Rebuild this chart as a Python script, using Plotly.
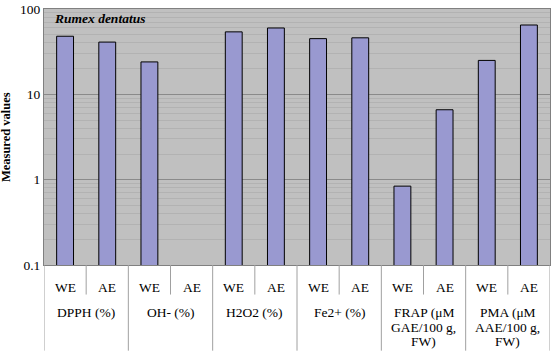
import plotly.graph_objects as go

groups = ["DPPH (%)", "OH- (%)", "H2O2 (%)", "Fe2+ (%)",
          "FRAP (μM<br>GAE/100 g,<br>FW)", "PMA (μM<br>AAE/100 g,<br>FW)"]
extracts = ["WE", "AE"]
values = [48, 41, 24, None, 54, 60, 45, 46, 0.84, 6.6, 25, 65]
y_ticks = [0.1, 1, 10, 100]
y_tick_text = ["0.1", "1", "10", "100"]

cats = [f"{g}|{e}" for g in groups for e in extracts]

SERIF = "Liberation Serif"
W, H = 553, 352
ML, MR, MT, MB = 44, 2, 5, 87
PW, PH = W - ML - MR, H - MT - MB

fig = go.Figure()
fig.add_trace(go.Bar(
    x=cats, y=values,
    marker=dict(color="#9999d0", line=dict(color="#000000", width=1)),
    width=0.4,
))

minor_vals = [m * 10 ** e for e in (-1, 0, 1) for m in range(2, 10)]

fig.update_layout(
    width=W, height=H,
    margin=dict(l=ML, r=MR, t=MT, b=MB),
    paper_bgcolor="white",
    plot_bgcolor="#c0c0c0",
    showlegend=False,
    font=dict(family=SERIF, size=13, color="#000"),
    xaxis=dict(type="category", categoryarray=cats, showticklabels=False,
               showgrid=False, ticks="", showline=True, linecolor="#808080",
               mirror=True, range=[-0.5, len(cats) - 0.5]),
    yaxis=dict(type="log", range=[-1, 2.0005], tickvals=y_ticks, ticktext=y_tick_text,
               showgrid=True, gridcolor="#8a8a8a", gridwidth=1,
               showline=True, linecolor="#808080", mirror=True,
               ticks="", tickfont=dict(family=SERIF, size=13.5),
               ticklabeloverflow="allow",
               minor=dict(tickvals=minor_vals, showgrid=True, gridcolor="#b2b2b2", ticks="")),
)

# y axis title
fig.add_annotation(text="<b>Measured values</b>", xref="paper", yref="paper",
                   x=(6 - ML) / PW, y=0.5, textangle=-90, showarrow=False,
                   xanchor="center", yanchor="middle",
                   font=dict(family=SERIF, size=12.5))

# title inside plot
fig.add_annotation(text="<b><i>Rumex dentatus</i></b>", xref="paper", yref="paper",
                   x=(52 - ML) / PW, y=1 - (15 - MT) / PH, xanchor="left", yanchor="middle",
                   showarrow=False, font=dict(family=SERIF, size=13.5))

# category labels
for i, c in enumerate(cats):
    g, e = c.split("|")
    fig.add_annotation(text=e, x=c, xref="x", yref="paper", y=-(288 - MT - PH) / PH,
                       yanchor="middle", showarrow=False, font=dict(family=SERIF, size=13.5))
for gi, g in enumerate(groups):
    for li, line in enumerate(g.split("<br>")):
        yc = 313 + 15 * li
        fig.add_annotation(text=line, x=gi * 2 + 0.5, xref="x", yref="paper",
                           y=-(yc - MT - PH) / PH, yanchor="middle", showarrow=False,
                           font=dict(family=SERIF, size=13.5))

# divider lines
for k in range(len(cats) + 1):
    xpos = k - 0.5
    if k % 2 == 0:
        y1 = -MB / PH
    else:
        y1 = -30 / PH
    fig.add_shape(type="line", xref="x", yref="paper", x0=xpos, x1=xpos, y0=0, y1=y1,
                  line=dict(color="#a0a0a0", width=1))

fig.write_html("out.html")
